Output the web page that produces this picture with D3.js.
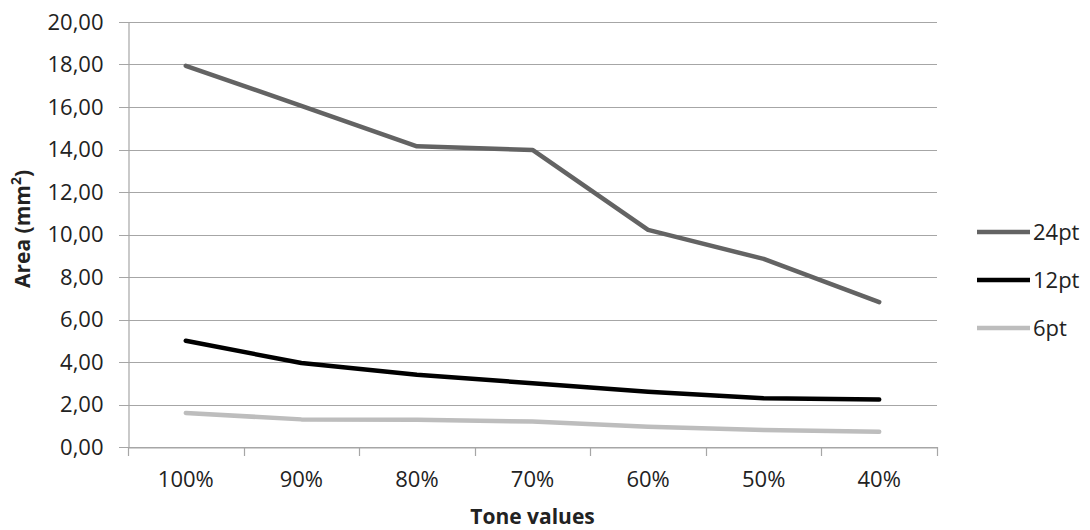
<!DOCTYPE html>
<html>
<head>
<meta charset="utf-8">
<script src="https://cdn.jsdelivr.net/npm/d3@7"></script>
<style>
  body { margin: 0; background: #fff; }
  text { font-family: "Open Sans", "Noto Sans", sans-serif; fill: #222; }
</style>
</head>
<body>
<script>
const categories = ["100%", "90%", "80%", "70%", "60%", "50%", "40%"];
const yTicks = [0, 2, 4, 6, 8, 10, 12, 14, 16, 18, 20];
const pt24 = [17.94, 16.05, 14.15, 13.98, 10.22, 8.85, 6.82];
const pt12 = [5.0, 3.95, 3.4, 3.0, 2.6, 2.29, 2.24];
const pt6 = [1.6, 1.3, 1.28, 1.2, 0.95, 0.8, 0.72];
const seriesNames = ["24pt", "12pt", "6pt"];

const series = [
  { name: seriesNames[0], values: pt24, color: "#636363" },
  { name: seriesNames[1], values: pt12, color: "#000000" },
  { name: seriesNames[2], values: pt6, color: "#bdbdbd" }
];

const width = 1090, height = 530;
const plotLeft = 128, plotRight = 937, plotTop = 22, plotBottom = 447;

const svg = d3.select("body").append("svg")
  .attr("width", width)
  .attr("height", height);

const x = d3.scaleBand().domain(categories).range([plotLeft, plotRight]);
const y = d3.scaleLinear().domain([0, 20]).range([plotBottom, plotTop]);

// Gridlines
svg.append("g")
  .selectAll("line")
  .data(yTicks)
  .enter()
  .append("line")
  .attr("x1", plotLeft - 9)
  .attr("x2", plotRight)
  .attr("y1", d => Math.round(y(d)) + 0.5)
  .attr("y2", d => Math.round(y(d)) + 0.5)
  .attr("stroke", "#a6a6a6")
  .attr("stroke-width", 1.2);

// Y axis
const yAxis = svg.append("g")
  .attr("transform", `translate(${plotLeft + 0.5},0)`)
  .call(d3.axisLeft(y).tickValues(yTicks).tickSize(0).tickPadding(25)
    .tickFormat(d => d3.format(".2f")(d).replace(".", ",")));
yAxis.select(".domain").attr("stroke", "#a6a6a6").attr("stroke-width", 1.2);
yAxis.selectAll("text").style("font-size", "22px").attr("fill", "#222");

// X axis
const xAxis = svg.append("g")
  .attr("transform", `translate(0,${Math.round(plotBottom) + 0.5})`)
  .call(d3.axisBottom(x).tickSize(0).tickPadding(24));
xAxis.select(".domain").attr("stroke", "#a6a6a6").attr("stroke-width", 1.2);
xAxis.selectAll("text").style("font-size", "22px").attr("fill", "#222");

// X tick marks between categories
const edges = categories.map(c => x(c)).concat([plotRight]);
svg.append("g")
  .selectAll("line")
  .data(edges)
  .enter()
  .append("line")
  .attr("x1", d => Math.round(d) + 0.5)
  .attr("x2", d => Math.round(d) + 0.5)
  .attr("y1", plotBottom)
  .attr("y2", plotBottom + 9)
  .attr("stroke", "#a6a6a6")
  .attr("stroke-width", 1.2);

// Lines
const line = d3.line()
  .x((d, i) => x(categories[i]) + x.bandwidth() / 2)
  .y(d => y(d));

svg.append("g")
  .selectAll("path")
  .data(series)
  .enter()
  .append("path")
  .attr("d", d => line(d.values))
  .attr("fill", "none")
  .attr("stroke", d => d.color)
  .attr("stroke-width", 4.5)
  .attr("stroke-linejoin", "round")
  .attr("stroke-linecap", "round");

// Legend
const legend = svg.append("g")
  .selectAll("g")
  .data(series)
  .enter()
  .append("g")
  .attr("transform", (d, i) => `translate(977,${232 + i * 48})`);

legend.append("line")
  .attr("x1", 0)
  .attr("x2", 53)
  .attr("stroke", d => d.color)
  .attr("stroke-width", 4.5);

legend.append("text")
  .attr("x", 56)
  .attr("dy", "0.35em")
  .style("font-size", "22px")
  .text(d => d.name);

// Axis titles
svg.append("text")
  .attr("transform", "translate(30,229) rotate(-90)")
  .attr("text-anchor", "middle")
  .style("font-size", "21px")
  .style("font-weight", "bold")
  .attr("fill", "#111")
  .html("Area (mm<tspan baseline-shift='super' font-size='14px'>2</tspan>)");

svg.append("text")
  .attr("x", (plotLeft + plotRight) / 2)
  .attr("y", 524)
  .attr("text-anchor", "middle")
  .style("font-size", "21px")
  .style("font-weight", "bold")
  .attr("fill", "#111")
  .text("Tone values");
</script>
</body>
</html>
